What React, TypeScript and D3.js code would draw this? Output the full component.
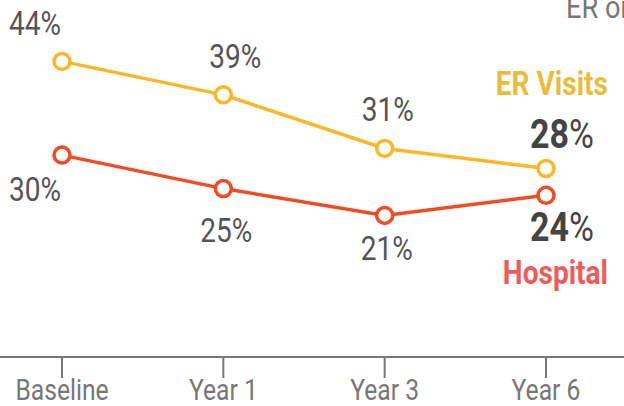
import React from 'react';
import * as d3 from 'd3';

const periods = ['Baseline', 'Year 1', 'Year 3', 'Year 6'];
const erVisits = [44, 39, 31, 28];
const hospital = [30, 25, 21, 24];

// label nudges per point (px), keyed by period index
const erLabelOffset = [[-27, -26], [12, -27], [3, -27]];
const hospLabelOffset = [[-27, 46], [3, 53], [2, 45]];

const W = 624;
const H = 406;
const FONT = 'Roboto, "Noto Sans", sans-serif';
const SQUEEZE = 0.85;

const ER_LINE = '#f8b82a';
const HOSP_LINE = '#f24b25';

const Label = ({ x, y, anchor = 'middle', size = 33, weight = 400, fill = '#555', children }: any) => (
  <g transform={`translate(${x},${y}) scale(${SQUEEZE},1)`}>
    <text textAnchor={anchor} fontSize={size} fontWeight={weight} fill={fill} fontFamily={FONT}>
      {children}
    </text>
  </g>
);

const App = () => {
  const x = d3.scalePoint<string>().domain(periods).range([62, 546]);
  const y = d3.scaleLinear().domain([0, 50]).range([356, 21.2]);
  const axisY = 357;

  const line = d3
    .line<number>()
    .x((_, i) => x(periods[i]) as number)
    .y(d => y(d));

  const series = [
    { values: erVisits, color: ER_LINE },
    { values: hospital, color: HOSP_LINE },
  ];

  const last = periods.length - 1;
  const lastX = x(periods[last]) as number;

  return (
    <svg width={W} height={H} style={{ position: 'absolute', left: 0, top: 0 }}>
      <rect width={W} height={H} fill="#fff" />

      {/* clipped title at top right */}
      <Label x={566} y={18} anchor="start" size={32} fill="#777">ER or Hospital Visits</Label>

      {/* x axis */}
      <line x1={0} x2={W} y1={axisY} y2={axisY} stroke="#777" strokeWidth={2} />
      {periods.map(p => (
        <g key={p}>
          <line x1={x(p)} x2={x(p)} y1={axisY} y2={axisY + 21} stroke="#777" strokeWidth={2} />
          <Label x={x(p)} y={400} size={29} fill="#777">{p}</Label>
        </g>
      ))}

      {series.map((s, k) => (
        <g key={k}>
          <path d={line(s.values) || ''} fill="none" stroke={s.color} strokeWidth={3.5} />
          {s.values.map((v, i) => (
            <circle key={i} cx={x(periods[i])} cy={y(v)} r={8} fill="#fff" stroke={s.color} strokeWidth={3.5} />
          ))}
        </g>
      ))}

      {erVisits.slice(0, last).map((v, i) => (
        <Label key={'e' + i} x={(x(periods[i]) as number) + erLabelOffset[i][0]} y={y(v) + erLabelOffset[i][1]}>
          {v}%
        </Label>
      ))}
      {hospital.slice(0, last).map((v, i) => (
        <Label key={'h' + i} x={(x(periods[i]) as number) + hospLabelOffset[i][0]} y={y(v) + hospLabelOffset[i][1]}>
          {v}%
        </Label>
      ))}

      {/* end labels */}
      <Label x={608} y={95} anchor="end" size={33} weight={700} fill="#e9bd3b">ER Visits</Label>
      <Label x={lastX - 16} y={y(erVisits[last]) - 21} anchor="start" size={40} weight={700} fill="#444">
        {erVisits[last]}
        <tspan fontWeight={400}>%</tspan>
      </Label>
      <Label x={lastX - 16} y={y(hospital[last]) + 46} anchor="start" size={40} weight={700} fill="#444">
        {hospital[last]}
        <tspan fontWeight={400}>%</tspan>
      </Label>
      <Label x={608} y={284} anchor="end" size={33} weight={700} fill="#ef5a5a">Hospital</Label>
    </svg>
  );
};

export default App;
